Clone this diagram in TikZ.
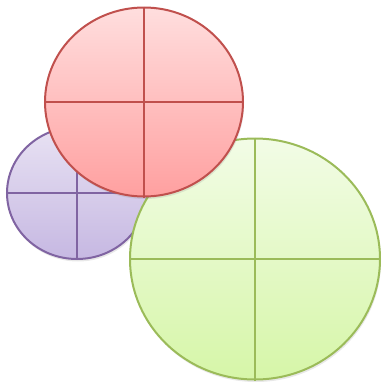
\documentclass[tikz,border=0pt]{standalone}
\usetikzlibrary{shapes.geometric,shadows}
\definecolor{redline}{RGB}{192,80,77}
\definecolor{redtop}{RGB}{255,222,222}
\definecolor{redbot}{RGB}{255,160,160}
\definecolor{purpline}{RGB}{128,100,162}
\definecolor{purptop}{RGB}{232,226,243}
\definecolor{purpbot}{RGB}{198,184,226}
\definecolor{greenline}{RGB}{155,187,89}
\definecolor{greentop}{RGB}{242,252,230}
\definecolor{greenbot}{RGB}{214,246,168}
\tikzset{
  blob/.style={ellipse, inner sep=0pt, line width=2pt,
    drop shadow={shadow xshift=1pt, shadow yshift=-2.5pt, opacity=0.18}},
  cross/.style={line width=2pt}
}
\begin{document}
\begin{tikzpicture}[x=1pt,y=-1pt]
\useasboundingbox (0,0) rectangle (384,386);
% purple
\node[blob, draw=purpline, top color=purptop, bottom color=purpbot,
  minimum width=140pt, minimum height=132pt] (p) at (77,193) {};
\draw[cross, purpline] (p.north) -- (p.south);
\draw[cross, purpline] (p.west) -- (p.east);
% green
\node[blob, draw=greenline, top color=greentop, bottom color=greenbot,
  minimum width=250pt, minimum height=241pt] (g) at (255,259) {};
\draw[cross, greenline] (g.north) -- (g.south);
\draw[cross, greenline] (g.west) -- (g.east);
% red
\node[blob, draw=redline, top color=redtop, bottom color=redbot,
  minimum width=198pt, minimum height=189pt] (r) at (144,102) {};
\draw[cross, redline] (r.north) -- (r.south);
\draw[cross, redline] (r.west) -- (r.east);
\end{tikzpicture}
\end{document}
